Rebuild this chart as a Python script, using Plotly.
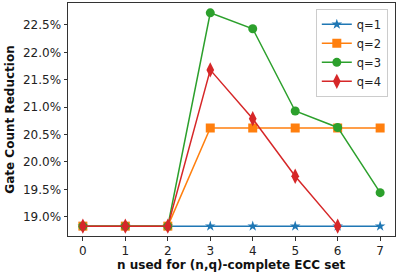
import plotly.graph_objects as go

n_values = [0, 1, 2, 3, 4, 5, 6, 7]
q1 = [0.1883, 0.1883, 0.1883, 0.1883, 0.1883, 0.1883, 0.1883, 0.1883]
q2 = [0.1883, 0.1883, 0.1883, 0.2062, 0.2062, 0.2062, 0.2062, 0.2062]
q3 = [0.1883, 0.1883, 0.1883, 0.2272, 0.2243, 0.2093, 0.2063, 0.1944]
q4 = [0.1883, 0.1883, 0.1883, 0.2168, 0.2079, 0.1974, 0.1883]
series_names = ["q=1", "q=2", "q=3", "q=4"]
colors = ["#1f77b4", "#ff7f0e", "#2ca02c", "#d62728"]
symbols = ["star", "square", "circle", "diamond-tall"]
sizes = [8, 9, 9, 11]

fig = go.Figure()
for name, ys, c, s, sz in zip(series_names, [q1, q2, q3, q4], colors, symbols, sizes):
    fig.add_trace(go.Scatter(
        x=n_values[:len(ys)], y=ys, name=name, mode="lines+markers",
        line=dict(color=c, width=1.5),
        marker=dict(symbol=s, size=sz, color=c, line=dict(width=0)),
    ))

font = "DejaVu Sans"
fig.update_layout(
    width=399, height=276,
    margin=dict(l=68, r=4, t=3, b=40, autoexpand=False),
    paper_bgcolor="white", plot_bgcolor="white",
    font=dict(family=font, size=12, color="#222"),
    showlegend=True,
    legend=dict(
        x=0.978, y=0.975, xanchor="right", yanchor="top",
        bgcolor="rgba(255,255,255,0.8)", bordercolor="#cccccc", borderwidth=1,
        font=dict(size=11.5, family=font), itemwidth=30, tracegroupgap=0,
    ),
    xaxis=dict(
        range=[-0.35, 7.35], tickmode="array", tickvals=n_values, automargin=False,
        ticks="outside", ticklen=3.5, tickcolor="#333", showgrid=False, zeroline=False,
        showline=True, linecolor="#333", linewidth=1, mirror=True,
        tickfont=dict(size=12, family=font),
    ),
    yaxis=dict(
        range=[0.1865, 0.2290], tickformat=".1%", dtick=0.005, tick0=0.19, automargin=False,
        ticks="outside", ticklen=3.5, tickcolor="#333", showgrid=False, zeroline=False,
        showline=True, linecolor="#333", linewidth=1, mirror=True,
        tickfont=dict(size=12, family=font),
    ),
    annotations=[
        dict(text="<b>n used for (n,q)-complete ECC set</b>", xref="paper", yref="paper",
             x=0.5, y=-0.124, xanchor="center", yanchor="middle", showarrow=False,
             font=dict(size=12, family=font, color="#111")),
        dict(text="<b>Gate Count Reduction</b>", xref="paper", yref="paper",
             x=-0.18, y=0.5, xanchor="center", yanchor="middle", showarrow=False, textangle=-90,
             font=dict(size=12, family=font, color="#111")),
    ],
)

fig.write_html("out.html", config={"displayModeBar": False},
               post_script="document.body.style.margin='0';")
